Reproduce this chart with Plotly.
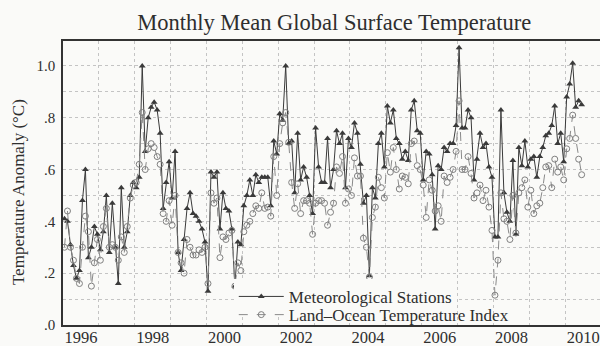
import plotly.graph_objects as go

# Monthly anomalies (deg C), Jan 1996 .. Jun 2010
met_1996 = [.41, .40, .31, .23, .18, .21, .48, .60, .26, .30, .38, .35]
met_1997 = [.29, .36, .50, .28, .47, .30, .16, .53, .30, .36, .50, .55]
met_1998 = [.53, .57, 1.00, .67, .80, .84, .86, .83, .74, .45, .55, .63]
met_1999 = [.49, .67, .28, .21, .33, .45, .51, .43, .42, .40, .37, .32]
met_2000 = [.13, .59, .57, .59, .37, .51, .45, .44, .37, .15, .32, .31]
met_2001 = [.46, .50, .56, .50, .58, .55, .57, .57, .57, .46, .71, .66]
met_2002 = [.815, .79, 1.00, .70, .71, .51, .74, .56, .61, .57, .50, .43]
met_2003 = [.76, .61, .55, .55, .72, .53, .60, .75, .70, .74, .53, .72]
met_2004 = [.685, .78, .74, .62, .47, .50, .19, .53, .49, .70, .74, .61]
met_2005 = [.845, .78, .83, .72, .70, .64, .67, .635, .83, .865, .75, .74]
met_2006 = [.56, .67, .66, .58, .37, .615, .60, .685, .67, .70, .70, .77]
met_2007 = [1.07, .76, .76, .83, .80, .56, .64, .74, .685, .70, .61, .57]
met_2008 = [.34, .34, .83, .51, .435, .40, .635, .35, .685, .615, .71, .61]
met_2009 = [.64, .65, .57, .65, .685, .73, .74, .77, .845, .70, .74, .63]
met_2010 = [.88, .93, 1.01, .84, .865, .85]

loti_1996 = [.30, .44, .30, .25, .18, .16, .30, .42, .36, .15, .24, .33]
loti_1997 = [.25, .38, .45, .30, .31, .30, .25, .34, .28, .38, .49, .54]
loti_1998 = [.55, .62, .82, .60, .68, .70, .685, .65, .62, .43, .40, .48]
loti_1999 = [.385, .50, .28, .24, .20, .33, .30, .27, .27, .29, .28, .30]
loti_2000 = [.16, .51, .47, .49, .26, .34, .33, .355, .365, .15, .24, .21]
loti_2001 = [.36, .385, .40, .43, .46, .45, .51, .45, .455, .42, .65, .50]
loti_2002 = [.70, .78, .82, .705, .55, .45, .545, .43, .48, .48, .47, .35]
loti_2003 = [.47, .48, .48, .47, .385, .435, .47, .61, .585, .65, .47, .525]
loti_2004 = [.50, .645, .575, .575, .335, .30, .185, .415, .455, .57, .53, .49]
loti_2005 = [.665, .59, .685, .60, .525, .575, .57, .545, .70, .71, .615, .60]
loti_2006 = [.54, .415, .56, .52, .44, .46, .40, .575, .55, .57, .60, .67]
loti_2007 = [.865, .60, .60, .65, .585, .49, .51, .54, .48, .52, .455, .365]
loti_2008 = [.115, .25, .51, .41, .40, .33, .50, .355, .51, .53, .56, .455]
loti_2009 = [.52, .43, .46, .47, .53, .61, .615, .53, .64, .59, .61, .56]
loti_2010 = [.68, .72, .81, .72, .64, .58]

start_year = 1996
year_labels = ["1996", "1998", "2000", "2002", "2004", "2006", "2008", "2010"]
y_ticks = [0.0, 0.2, 0.4, 0.6, 0.8, 1.0]
y_tick_text = [".0", ".2", ".4", ".6", ".8", "1.0"]

met = (met_1996 + met_1997 + met_1998 + met_1999 + met_2000 + met_2001 + met_2002 +
       met_2003 + met_2004 + met_2005 + met_2006 + met_2007 + met_2008 + met_2009 + met_2010)
loti = (loti_1996 + loti_1997 + loti_1998 + loti_1999 + loti_2000 + loti_2001 + loti_2002 +
        loti_2003 + loti_2004 + loti_2005 + loti_2006 + loti_2007 + loti_2008 + loti_2009 + loti_2010)

t_met = [start_year + (i + 0.5) / 12 for i in range(len(met))]
t_loti = [start_year + (i + 0.5) / 12 for i in range(len(loti))]

SERIF = "Liberation Serif, Times New Roman, serif"
INK = "#2e2e2e"
BG = "#fafaf8"
GRID = "#c4c4c4"

fig = go.Figure()
fig.add_trace(go.Scatter(
    x=t_met, y=met, mode="lines+markers", name="Meteorological Stations",
    line=dict(color="#3a3a3a", width=1),
    marker=dict(symbol="triangle-up", size=6, color="#3a3a3a"),
    legend="legend",
))
fig.add_trace(go.Scatter(
    x=t_loti, y=loti, mode="lines+markers", name="Land\u2013Ocean Temperature Index",
    line=dict(color="#8a8a8a", width=1, dash="dash"),
    marker=dict(symbol="circle-open", size=6, color="#808080", line=dict(width=1)),
    legend="legend2",
))

year_ticks = [int(l) + 0.5 for l in year_labels]
all_years = list(range(start_year, 2011))

leg_common = dict(xanchor="left", yanchor="middle", borderwidth=0,
                  itemwidth=45, font=dict(family=SERIF, size=17, color=INK))

fig.update_layout(
    width=600, height=346,
    margin=dict(l=63, r=0, t=41, b=21),
    paper_bgcolor=BG, plot_bgcolor=BG,
    font=dict(family=SERIF, color=INK, size=15),
    title=dict(text="Monthly Mean Global Surface Temperature", x=0.557, xanchor="center",
               y=1 - 22 / 346, yanchor="middle",
               font=dict(family=SERIF, size=22.5, color=INK)),
    showlegend=True,
    legend=dict(x=0.318, y=0.099, bgcolor=BG, **leg_common),
    legend2=dict(x=0.318, y=0.035, bgcolor="rgba(0,0,0,0)", **leg_common),
    xaxis=dict(range=[1996, 2010.97], tickmode="array", tickvals=year_ticks, ticktext=year_labels,
               showgrid=False, ticks="", zeroline=False, automargin=False,
               ticklabelstandoff=-4,
               showline=True, linecolor="#333", linewidth=1.5, mirror=True,
               tickfont=dict(family=SERIF, size=16.5, color=INK),
               minor=dict(tickmode="array", tickvals=all_years, showgrid=True,
                          gridcolor=GRID, gridwidth=1, griddash="dot", ticks="")),
    yaxis=dict(range=[0, 1.096], tickmode="array", tickvals=y_ticks, ticktext=y_tick_text,
               showgrid=True, gridcolor=GRID, gridwidth=1, griddash="dot",
               ticks="", zeroline=False, showline=True, linecolor="#333", linewidth=1.5,
               automargin=False, ticklabelstandoff=3,
               tickfont=dict(family=SERIF, size=15, color=INK),
               minor=dict(tickmode="array", tickvals=[0.1, 0.3, 0.5, 0.7, 0.9], showgrid=True,
                          gridcolor=GRID, gridwidth=1, griddash="dot", ticks="")),
    annotations=[dict(text="Temperature Anomaly (\u00b0C)", textangle=-90,
                      xref="paper", yref="paper", x=-0.0838, y=0.468,
                      xanchor="center", yanchor="middle", showarrow=False,
                      font=dict(family=SERIF, size=17, color=INK))],
)

fig.write_html("out.html", config={"displayModeBar": False},
               post_script="document.body.style.margin='0';document.body.style.background='#fafaf8';")
